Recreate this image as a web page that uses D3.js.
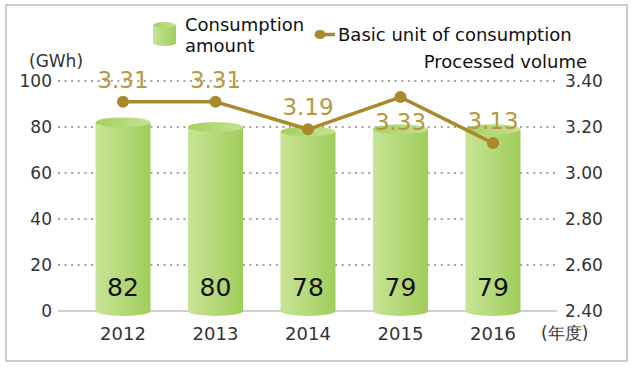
<!DOCTYPE html>
<html><head><meta charset="utf-8">
<script src="https://cdn.jsdelivr.net/npm/d3@7"></script>
<style>body{margin:0;background:#fff}svg{display:block}text{font-family:"DejaVu Sans",sans-serif}</style>
</head><body><svg id="c" width="639" height="367"></svg>
<script>
const years = ["2012","2013","2014","2015","2016"];
const consumption = [82, 80, 78, 79, 79];
const basicUnit = [3.31, 3.31, 3.19, 3.33, 3.13];
const labelPlace = ["above","above","above","below","above"];
const leftTicks = [0,20,40,60,80,100];
const rightTicks = [2.40,2.60,2.80,3.00,3.20,3.40];

const svg = d3.select("#c");
const defs = svg.append("defs");
const g1 = defs.append("linearGradient").attr("id","body").attr("x1","0").attr("x2","1").attr("y1","0").attr("y2","0");
g1.append("stop").attr("offset","0").attr("stop-color","#c9e497");
g1.append("stop").attr("offset","1").attr("stop-color","#9fcd5a");
const g2 = defs.append("linearGradient").attr("id","top").attr("x1","0").attr("x2","1").attr("y1","0").attr("y2","0");
g2.append("stop").attr("offset","0").attr("stop-color","#a3d060");
g2.append("stop").attr("offset","1").attr("stop-color","#c6e291");

svg.append("rect").attr("x",6).attr("y",5).attr("width",621).attr("height",356)
  .attr("fill","#fff").attr("stroke","#bdbdbd").attr("stroke-width",1.5);

const yL = d3.scaleLinear().domain([0,100]).range([311,81]);
const yR = d3.scaleLinear().domain([2.4,3.4]).range([311,81]);
const x = d3.scaleBand().domain(years).range([76.75,539.25]).paddingInner(0.405).paddingOuter(0.2025);
const bw = x.bandwidth();
const cx = d => x(d) + bw/2;

// grid
svg.append("g").selectAll("line").data(leftTicks.filter(t=>t>0)).join("line")
  .attr("x1",58).attr("x2",555).attr("y1",d=>yL(d)).attr("y2",d=>yL(d))
  .attr("stroke","#a3a3a3").attr("stroke-width",2).attr("stroke-dasharray","2,4.6");
svg.append("line").attr("x1",58).attr("x2",557).attr("y1",yL(0)).attr("y2",yL(0))
  .attr("stroke","#a0a0a0").attr("stroke-width",1.2);

// axes
const axL = svg.append("g").attr("transform","translate(58,0)")
  .call(d3.axisLeft(yL).tickValues(leftTicks).tickSize(0).tickPadding(6));
const axR = svg.append("g").attr("transform","translate(559,0)")
  .call(d3.axisRight(yR).tickValues(rightTicks).tickSize(0).tickPadding(6).tickFormat(d3.format(".2f")));
const axB = svg.append("g").attr("transform","translate(0,311)")
  .call(d3.axisBottom(x).tickSize(0).tickPadding(16));
[axL,axR,axB].forEach(a=>{a.select(".domain").remove();
  a.selectAll("text").attr("font-family","DejaVu Sans").attr("font-size",17).attr("fill","#333");});
axB.selectAll("text").attr("font-size",18);

svg.append("text").attr("x",29).attr("y",67).attr("font-size",17).attr("fill","#333").text("(GWh)");
svg.append("text").attr("x",541).attr("y",339).attr("font-size",17).attr("fill","#333").attr("font-family","Noto Sans CJK JP").text("(年度)");

// bars (cylinders)
const ry = 5;
const bars = svg.append("g").selectAll("g").data(years.map((y,i)=>({y,v:consumption[i]}))).join("g");
bars.append("path").attr("d",d=>{
  const x0=x(d.y), x1=x0+bw, t=yL(d.v), b=yL(0);
  return `M${x0},${t}L${x0},${b}A${bw/2},${ry} 0 0 0 ${x1},${b}L${x1},${t}Z`;
}).attr("fill","url(#body)");
bars.append("ellipse").attr("cx",d=>cx(d.y)).attr("cy",d=>yL(d.v)).attr("rx",bw/2).attr("ry",ry).attr("fill","url(#top)");
bars.append("text").attr("x",d=>cx(d.y)).attr("y",296).attr("text-anchor","middle")
  .attr("font-size",25).attr("fill","#111").text(d=>d.v);

// line
const pts = years.map((y,i)=>({y,v:basicUnit[i],p:labelPlace[i]}));
svg.append("path").datum(pts).attr("fill","none").attr("stroke","#a8892c").attr("stroke-width",3.5)
  .attr("d",d3.line().x(d=>cx(d.y)).y(d=>yR(d.v)));
svg.append("g").selectAll("circle").data(pts).join("circle")
  .attr("cx",d=>cx(d.y)).attr("cy",d=>yR(d.v)).attr("r",6).attr("fill","#a8892c");
svg.append("g").selectAll("text").data(pts).join("text")
  .attr("x",d=>cx(d.y)).attr("y",d=>d.p==="above"?yR(d.v)-14:yR(d.v)+33)
  .attr("text-anchor","middle").attr("font-size",23).attr("fill","#b8983e").text(d=>d.v.toFixed(2));

// legend
const lg = svg.append("g");
lg.append("path").attr("d",`M153,25L153,43A11.5,3 0 0 0 176,43L176,25Z`).attr("fill","url(#body)");
lg.append("ellipse").attr("cx",164.5).attr("cy",25).attr("rx",11.5).attr("ry",3).attr("fill","url(#top)");
lg.append("text").attr("x",185).attr("y",31).attr("font-size",18).attr("fill","#111").text("Consumption");
lg.append("text").attr("x",185).attr("y",52).attr("font-size",18).attr("fill","#111").text("amount");
lg.append("line").attr("x1",318).attr("x2",335).attr("y1",34.5).attr("y2",34.5).attr("stroke","#a8892c").attr("stroke-width",3.5);
lg.append("ellipse").attr("cx",320).attr("cy",34.5).attr("rx",5.5).attr("ry",4.5).attr("fill","#a8892c");
lg.append("text").attr("x",338).attr("y",41).attr("font-size",18).attr("fill","#111").text("Basic unit of consumption");
lg.append("text").attr("x",587).attr("y",68).attr("text-anchor","end").attr("font-size",18).attr("fill","#111").text("Processed volume");
</script></body></html>
